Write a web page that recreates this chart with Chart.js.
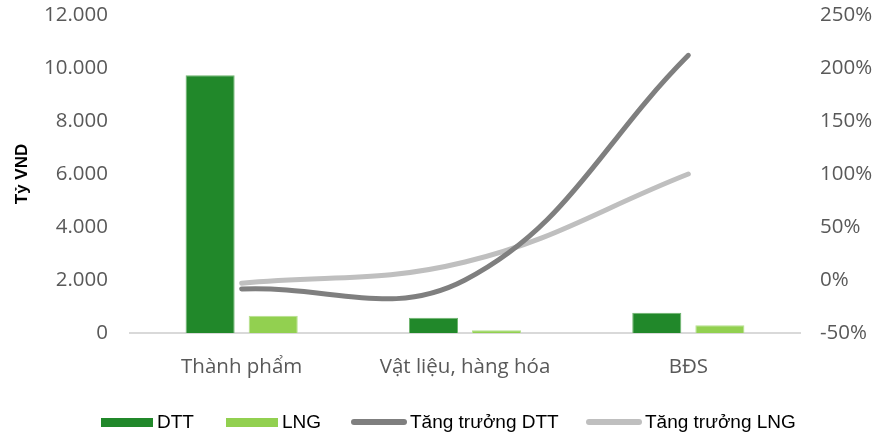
<!DOCTYPE html>
<html>
<head>
<meta charset="utf-8">
<script src="https://cdn.jsdelivr.net/npm/chart.js@4"></script>
<style>
  body { margin: 0; background: #fff; }
  #wrap { position: relative; width: 888px; height: 435px; }
  #bieuDo { position: absolute; left: 0; top: 0; }
  .chu-giai { position: absolute; top: 411px; height: 22px; line-height: 22px;
    font-family: "Liberation Sans", Arial, sans-serif; font-size: 19px; color: #000; white-space: nowrap; }
  .mau { position: absolute; }
</style>
</head>
<body>
<div id="wrap">
  <canvas id="bieuDo" width="888" height="435"></canvas>
  <div class="mau" style="left:101px;top:418px;width:52px;height:9px;background:#21882a"></div>
  <div class="chu-giai" style="left:157px">DTT</div>
  <div class="mau" style="left:226px;top:418px;width:52px;height:9px;background:#92d050"></div>
  <div class="chu-giai" style="left:282px">LNG</div>
  <div class="mau" style="left:351px;top:419px;width:56px;height:6px;border-radius:3px;background:#7f7f7f"></div>
  <div class="chu-giai" style="left:410px">Tăng trưởng DTT</div>
  <div class="mau" style="left:586px;top:419px;width:56px;height:6px;border-radius:3px;background:#bfbfbf"></div>
  <div class="chu-giai" style="left:645px">Tăng trưởng LNG</div>
</div>
<script>
// du lieu doc tu hinh
const danhMuc = ["Thành phẩm", "Vật liệu, hàng hóa", "BĐS"];
const doanhThu = [9730, 580, 760];
const loiNhuan = [650, 100, 290];
const tangTruongDTT = [-0.085, 0.0, 2.12];
const tangTruongLNG = [-0.03, 0.17, 1.0];

const fontTruc = { family: "'Open Sans', sans-serif", size: 20.5 };

// bo phan dem tren/duoi cua truc doc de vung ve bat dau dung cho
function coDinhTrucDoc(rong) {
  return (scale) => {
    scale.width = rong;
    scale.paddingTop = 0;
    scale.paddingBottom = 0;
  };
}

const ctx = document.getElementById("bieuDo").getContext("2d");

new Chart(ctx, {
  data: {
    labels: danhMuc,
    datasets: [
      {
        type: "line",
        label: "Tăng trưởng DTT",
        data: tangTruongDTT,
        yAxisID: "y1",
        borderColor: "#7f7f7f",
        borderWidth: 5,
        borderCapStyle: "round",
        pointRadius: 0,
        tension: 0.4,
        order: 1,
      },
      {
        type: "line",
        label: "Tăng trưởng LNG",
        data: tangTruongLNG,
        yAxisID: "y1",
        borderColor: "#bfbfbf",
        borderWidth: 5,
        borderCapStyle: "round",
        pointRadius: 0,
        tension: 0.4,
        order: 2,
      },
      {
        type: "bar",
        label: "DTT",
        data: doanhThu,
        yAxisID: "y",
        backgroundColor: "#21882a",
        borderColor: "#6fb56f",
        borderWidth: 1,
        categoryPercentage: 0.565,
        barPercentage: 0.778,
        order: 3,
      },
      {
        type: "bar",
        label: "LNG",
        data: loiNhuan,
        yAxisID: "y",
        backgroundColor: "#92d050",
        borderColor: "#b5e08e",
        borderWidth: 1,
        categoryPercentage: 0.565,
        barPercentage: 0.778,
        order: 4,
      },
    ],
  },
  options: {
    responsive: false,
    animation: false,
    layout: { padding: { top: 15, left: 0, right: 0, bottom: 0 } },
    plugins: {
      legend: { display: false },
      tooltip: { enabled: false },
    },
    scales: {
      x: {
        grid: { display: false, drawTicks: false },
        border: { color: "#d9d9d9", width: 2 },
        ticks: { color: "#595959", font: fontTruc, padding: 22, maxRotation: 0 },
        afterFit: (scale) => { scale.height = 102; },
      },
      y: {
        position: "left",
        min: 0,
        max: 12000,
        grid: { display: false, drawTicks: false },
        border: { display: false },
        ticks: {
          stepSize: 2000,
          color: "#595959",
          font: fontTruc,
          padding: 22,
          callback: (v) => v.toLocaleString("de-DE"),
        },
        title: {
          display: true,
          text: "Tỷ VND",
          color: "#000",
          font: { family: "'Liberation Sans', Arial, sans-serif", size: 17, weight: "bold" },
          padding: { top: 12, bottom: 0 },
        },
        afterFit: coDinhTrucDoc(130),
      },
      y1: {
        position: "right",
        min: -0.5,
        max: 2.5,
        grid: { display: false, drawTicks: false },
        border: { display: false },
        ticks: {
          stepSize: 0.5,
          color: "#595959",
          font: fontTruc,
          padding: 20,
          callback: (v) => Math.round(v * 100) + "%",
        },
        afterFit: coDinhTrucDoc(88),
      },
    },
  },
});
</script>
</body>
</html>
